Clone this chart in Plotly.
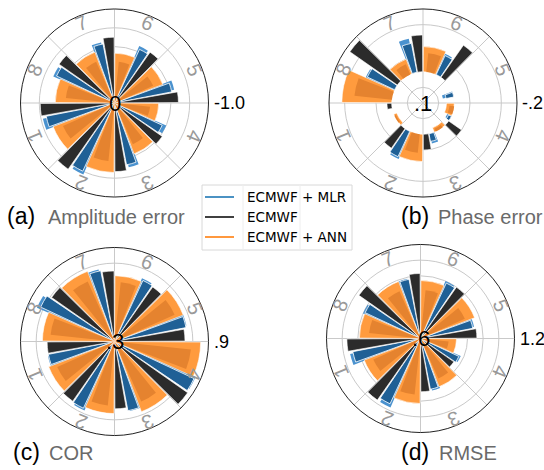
import math
import plotly.graph_objects as go

# ---------------- data (phase 1..8) ----------------
phases = [1, 2, 3, 4, 5, 6, 7, 8]
phase_labels = ["1", "2", "3", "4", "5", "6", "7", "8"]
model_names = ["ECMWF + MLR", "ECMWF", "ECMWF + ANN"]

# (a) Amplitude error
amp_ecmwf = [-0.79, -0.86, -0.73, -0.62, -0.68, -0.66, -0.70, -0.72]
amp_mlr = [-0.74, -0.80, -0.67, -0.56, -0.62, -0.63, -0.64, -0.68]
amp_mlr_tip = [-0.78, -0.83, -0.70, -0.60, -0.65, -0.66, -0.66, -0.71]
amp_ann = [-0.70, -0.74, -0.58, -0.47, -0.55, -0.53, -0.58, -0.63]
amp_ann_core = [-0.60, -0.62, -0.48, -0.38, -0.45, -0.44, -0.48, -0.52]

# (b) Phase error
pha_ecmwf = [-0.015, -0.076, -0.05, -0.05, 0.0, -0.125, -0.117, -0.185]
pha_mlr = [0.0, -0.089, -0.025, 0.01, 0.025, -0.067, -0.094, -0.096]
pha_mlr_tip = [0.0, -0.095, -0.032, 0.015, 0.035, -0.072, -0.11, -0.10]
pha_ann = [0.01, -0.087, 0.015, 0.025, 0.0, -0.08, -0.05, -0.159]
pha_ann_core = [0.005, -0.06, 0.01, 0.015, 0.0, -0.06, -0.035, -0.12]

# (c) COR
cor_ecmwf = [0.73, 0.765, 0.73, 0.87, 0.75, 0.725, 0.75, 0.79]
cor_mlr = [0.73, 0.77, 0.75, 0.86, 0.765, 0.73, 0.76, 0.82]
cor_mlr_tip = [0.735, 0.78, 0.755, 0.865, 0.77, 0.74, 0.77, 0.84]
cor_ann = [0.75, 0.76, 0.78, 0.85, 0.77, 0.72, 0.78, 0.76]
cor_ann_core = [0.70, 0.71, 0.72, 0.79, 0.72, 0.68, 0.72, 0.71]

# (d) RMSE
rmse_ecmwf = [1.07, 1.08, 0.94, 0.86, 0.96, 1.00, 1.015, 1.08]
rmse_mlr = [1.04, 1.06, 0.93, 0.87, 0.94, 0.99, 0.985, 0.99]
rmse_mlr_tip = [1.06, 1.08, 0.94, 0.88, 0.95, 1.00, 0.99, 1.00]
rmse_ann = [0.985, 1.015, 0.93, 0.83, 0.97, 0.97, 0.99, 0.99]
rmse_ann_core = [0.93, 0.96, 0.88, 0.78, 0.91, 0.91, 0.93, 0.93]

# ---------------- styling ----------------
W, H = 544, 470
R = 94
C_BLACK = "#2b2b2b"
C_BLUE = "#1f6096"
C_BLUE_TIP = "#4a92cf"
C_ORANGE = "#ff9b3e"
C_ORANGE_CORE = "#e5832f"
GRID = "#c9c9c9"
FONT = "Liberation Sans"

panels = [
    dict(key="polar", c=(114.5, 103.0), rng=[0, -1.0], base=0.0,
         ticks=[-0.2, -0.4, -0.6, -0.8], center="0", outer="-1.0",
         tag="(a)", title="Amplitude error", tpos=(5, 216), tgap=41,
         data=(amp_ecmwf, amp_mlr, amp_mlr_tip, amp_ann, amp_ann_core)),
    dict(key="polar2", c=(423.0, 103.0), rng=[0.1, -0.2], base=0.0,
         ticks=[0.05, -0.05, -0.15], center=".1", outer="-.2",
         tag="(b)", title="Phase error", tpos=(399, 216), tgap=37,
         data=(pha_ecmwf, pha_mlr, pha_mlr_tip, pha_ann, pha_ann_core)),
    dict(key="polar3", c=(114.5, 341.5), rng=[0.3, 0.9], base=0.3,
         ticks=[0.4, 0.5, 0.6, 0.7, 0.8], center=".3", outer=".9",
         tag="(c)", title="COR", tpos=(11, 452), tgap=36,
         data=(cor_ecmwf, cor_mlr, cor_mlr_tip, cor_ann, cor_ann_core)),
    dict(key="polar4", c=(420.5, 338.5), rng=[0.6, 1.2], base=0.6,
         ticks=[0.7, 0.8, 0.9, 1.0, 1.1], center=".6", outer="1.2",
         tag="(d)", title="RMSE", tpos=(399, 452), tgap=38,
         data=(rmse_ecmwf, rmse_mlr, rmse_mlr_tip, rmse_ann, rmse_ann_core)),
]


def sector_start(p):
    return ((p - 5) % 8) * 45.0


def ann_at(x, y, text, size, color, family=FONT, xanchor="center", angle=0):
    return dict(x=x / W, y=1 - y / H, xref="paper", yref="paper", text=text,
                showarrow=False, xanchor=xanchor, yanchor="middle", textangle=angle,
                font=dict(family=family, size=size, color=color))


fig = go.Figure()
annotations = []
layout_polars = {}

for pn in panels:
    ecm, mlr, mlr_tip, ann, ann_core = pn["data"]
    base = pn["base"]
    sub = pn["key"]
    # (values, angular offset in sector, width, colour, outline width)
    layers = [
        (mlr_tip, 17.0, 9.0, C_BLUE_TIP, 0.0),
        (mlr, 15.5, 9.0, C_BLUE, 0.8),
        (ecm, 5.2, 9.6, C_BLACK, 0.6),
        (ann, 32.8, 23.6, C_ORANGE, 0.6),
        (ann_core, 31.5, 15.0, C_ORANGE_CORE, 0.0),
    ]
    for vals, off, wid, col, lw in layers:
        fig.add_trace(go.Barpolar(
            r=[v - base for v in vals],
            base=[base] * len(vals),
            theta=[sector_start(p) + off for p in phases],
            width=[wid] * len(vals),
            marker=dict(color=col, line=dict(color="white", width=lw)),
            subplot=sub, showlegend=False, hoverinfo="skip",
        ))
    cx, cy = pn["c"]
    dom_x = [(cx - R) / W, (cx + R) / W]
    dom_y = [1 - (cy + R) / H, 1 - (cy - R) / H]
    layout_polars[sub] = dict(
        domain=dict(x=dom_x, y=dom_y),
        bgcolor="white",
        radialaxis=dict(range=pn["rng"], tickvals=pn["ticks"], showticklabels=False,
                        ticks="", showline=False, gridcolor=GRID, gridwidth=1),
        angularaxis=dict(tickvals=[0, 45, 90, 135, 180, 225, 270, 315],
                         showticklabels=False, ticks="", showline=True,
                         linecolor="#222222", linewidth=1, gridcolor=GRID,
                         rotation=0, direction="counterclockwise"),
    )
    annotations.append(ann_at(cx, cy, pn["center"], 22, "black"))
    annotations.append(ann_at(cx + R + 3, cy, pn["outer"], 18, "black", xanchor="left"))
    for p, lab in zip(phases, phase_labels):
        ang = sector_start(p) + 22.5
        rr = 86.5
        lx = cx + rr * math.cos(math.radians(ang))
        ly = cy - rr * math.sin(math.radians(ang))
        annotations.append(ann_at(lx, ly, lab, 20, "#999999", angle=90 - ang))
    tx, ty = pn["tpos"]
    annotations.append(ann_at(tx, ty, pn["tag"], 23, "black", xanchor="left"))
    annotations.append(ann_at(tx + pn["tgap"], ty + 1, pn["title"], 20, "#6a6a6a", xanchor="left"))

# ---------------- legend (drawn manually) ----------------
shapes = []
lx0, lx1, ly0, ly1 = 202, 352, 185, 250
shapes.append(dict(type="rect", xref="paper", yref="paper",
                   x0=lx0 / W, x1=lx1 / W, y0=1 - ly1 / H, y1=1 - ly0 / H,
                   line=dict(color="#d8d8d8", width=1), fillcolor="white"))
for gx in (243, 300):
    shapes.append(dict(type="line", xref="paper", yref="paper",
                       x0=gx / W, x1=gx / W, y0=1 - ly1 / H, y1=1 - ly0 / H,
                       line=dict(color="#eeeeee", width=1)))
leg_cols = ["#1f77b4", "#111111", "#ff7f0e"]
for i, (name, col) in enumerate(zip(model_names, leg_cols)):
    yy = 197 + i * 20
    shapes.append(dict(type="line", xref="paper", yref="paper",
                       x0=205 / W, x1=234 / W, y0=1 - yy / H, y1=1 - yy / H,
                       line=dict(color=col, width=1.6)))
    annotations.append(ann_at(245, yy, name, 13.5, "black", family="DejaVu Sans", xanchor="left"))

fig.update_layout(
    width=W, height=H, margin=dict(l=0, r=0, t=0, b=0),
    paper_bgcolor="white", plot_bgcolor="white",
    annotations=annotations, shapes=shapes, showlegend=False,
    **layout_polars,
)
fig.write_html("out.html", config={"displayModeBar": False},
               post_script="document.body.style.margin='0';")
